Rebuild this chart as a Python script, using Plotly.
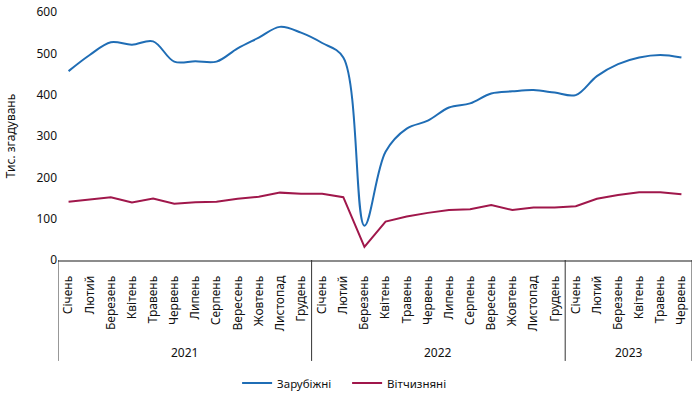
import plotly.graph_objects as go

years = ["2021", "2022", "2023"]
months = ["Січень", "Лютий", "Березень", "Квітень", "Травень", "Червень",
          "Липень", "Серпень", "Вересень", "Жовтень", "Листопад", "Грудень"]
period_year = ["2021"] * 12 + ["2022"] * 12 + ["2023"] * 6
period_month = months + months + months[:6]

foreign = [457, 496, 527, 521, 529, 480, 481, 480, 512, 538, 564, 550,
           525, 490, 83, 262, 318, 337, 369, 379, 403, 408, 411, 405,
           399, 445, 474, 490, 496, 490]
domestic = [141, 147, 152, 139, 149, 136, 140, 141, 148, 153, 163, 160,
            160, 152, 32, 93, 105, 114, 121, 123, 133, 121, 127, 127,
            130, 148, 157, 164, 164, 159]

xs = list(range(len(period_month)))
FONT = "Noto Sans"

fig = go.Figure()
fig.add_trace(go.Scatter(x=xs, y=foreign, mode="lines", name="Зарубіжні",
                         line=dict(color="#1F6DB5", width=2, shape="spline", smoothing=1)))
fig.add_trace(go.Scatter(x=xs, y=domestic, mode="lines", name="Вітчизняні",
                         line=dict(color="#A0174B", width=2)))

# year labels and dividers
bounds = []
for yr in years:
    idx = [i for i, y in enumerate(period_year) if y == yr]
    fig.add_annotation(x=sum(idx) / len(idx), y=-0.371, xref="x", yref="paper",
                       text=yr, showarrow=False, yanchor="middle",
                       font=dict(family=FONT, size=12, color="#111"))
    bounds.append(idx[0] - 0.5)
bounds.append(len(xs) - 0.5)
for b in bounds:
    fig.add_shape(type="line", xref="x", yref="paper", x0=b, x1=b, y0=0, y1=-0.407,
                  line=dict(color="#333", width=1))

fig.update_layout(
    width=697, height=396,
    margin=dict(l=58, r=5, t=12, b=136, autoexpand=False),
    plot_bgcolor="white", paper_bgcolor="white",
    font=dict(family=FONT, size=11, color="#111"),
    showlegend=True,
    legend=dict(orientation="h", x=0.456, xanchor="center", y=-0.496, yanchor="middle",
                font=dict(family=FONT, size=11.5, color="#111"), itemwidth=30,
                entrywidth=65, entrywidthmode="pixels"),
    xaxis=dict(range=[-0.5, len(xs) - 0.5], tickmode="array", tickvals=xs,
               ticktext=period_month, tickangle=-90, showgrid=False, zeroline=False,
               showline=True, linecolor="#8c8c8c", linewidth=2, ticks="",
               ticklabelstandoff=9, automargin=False,
               tickfont=dict(family=FONT, size=12, color="#111")),
    yaxis=dict(range=[0, 600], dtick=100, showgrid=False, zeroline=False,
               showline=False, ticks="", automargin=False,
               tickfont=dict(family=FONT, size=12, color="#111"),
               title=dict(text="Тис. згадувань", font=dict(family=FONT, size=12, color="#111"),
                          standoff=18)),
)

fig.write_html("out.html", config={"displayModeBar": False},
               post_script="document.body.style.margin='0';")
